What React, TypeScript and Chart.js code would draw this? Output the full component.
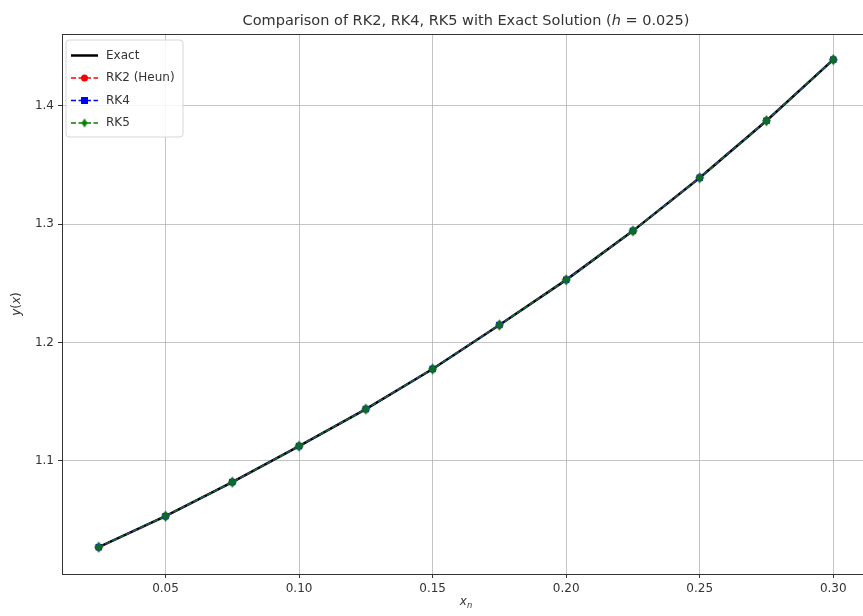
import { useEffect, useRef } from "react";
import { Chart, registerables } from "chart.js";

Chart.register(...registerables);

// Grid points x_n and solution values
const xValues = [0.025, 0.05, 0.075, 0.1, 0.125, 0.15, 0.175, 0.2, 0.225, 0.25, 0.275, 0.3];
const exactValues = [1.027, 1.0532, 1.082, 1.1124, 1.1437, 1.1776, 1.2148, 1.2529, 1.2943, 1.3392, 1.3874, 1.439];
const rk2Values = [1.027, 1.0532, 1.082, 1.1124, 1.1437, 1.1776, 1.2148, 1.2529, 1.2943, 1.3392, 1.3874, 1.439];
const rk4Values = [1.027, 1.0532, 1.082, 1.1124, 1.1437, 1.1776, 1.2148, 1.2529, 1.2943, 1.3392, 1.3874, 1.439];
const rk5Values = [1.027, 1.0532, 1.082, 1.1124, 1.1437, 1.1776, 1.2148, 1.2529, 1.2943, 1.3392, 1.3874, 1.439];

const xTicks = [0.05, 0.1, 0.15, 0.2, 0.25, 0.3];
const yTicks = [1.1, 1.2, 1.3, 1.4];

const legendNames = ["Exact", "RK2 (Heun)", "RK4", "RK5"];

const FONT = "'DejaVu Sans', sans-serif";
const TEXT = "#333";

function thinDiamond(color: string, w: number, h: number): HTMLCanvasElement {
  const c = document.createElement("canvas");
  c.width = w + 2;
  c.height = h + 2;
  const g = c.getContext("2d")!;
  g.fillStyle = color;
  g.beginPath();
  g.moveTo(c.width / 2, 1);
  g.lineTo(c.width - 1, c.height / 2);
  g.lineTo(c.width / 2, c.height - 1);
  g.lineTo(1, c.height / 2);
  g.closePath();
  g.fill();
  return c;
}

type Seg = { t: string; italic?: boolean; sub?: boolean };

function drawRich(ctx: CanvasRenderingContext2D, segs: Seg[], size: number, cx: number, y: number) {
  const fontFor = (s: Seg) => `${s.italic ? "italic " : ""}${s.sub ? size * 0.7 : size}px ${FONT}`;
  let total = 0;
  for (const s of segs) {
    ctx.font = fontFor(s);
    total += ctx.measureText(s.t).width;
  }
  let x = cx - total / 2;
  ctx.textAlign = "left";
  for (const s of segs) {
    ctx.font = fontFor(s);
    ctx.fillText(s.t, x, s.sub ? y + size * 0.25 : y);
    x += ctx.measureText(s.t).width;
  }
}

const App = () => {
  const ref = useRef<HTMLCanvasElement>(null);

  useEffect(() => {
    const diamondSmall = thinDiamond("#008000", 6, 9);
    const diamond = thinDiamond("#0d6b2c", 9, 11);

    const decorations = {
      id: "decorations",
      afterDraw(chart: Chart) {
        const { ctx, chartArea: a } = chart;
        ctx.save();
        // axes frame
        ctx.strokeStyle = "#333";
        ctx.lineWidth = 1;
        ctx.strokeRect(Math.round(a.left) + 0.5, Math.round(a.top) + 0.5, Math.round(a.right - a.left), Math.round(a.bottom - a.top));

        ctx.fillStyle = TEXT;
        ctx.textBaseline = "alphabetic";
        const cx = (a.left + a.right) / 2;
        // title
        drawRich(
          ctx,
          [{ t: "Comparison of RK2, RK4, RK5 with Exact Solution (" }, { t: "h", italic: true }, { t: " = 0.025)" }],
          14.5,
          cx,
          25
        );
        // x label
        drawRich(ctx, [{ t: "x", italic: true }, { t: "n", italic: true, sub: true }], 12, cx, 605);
        // y label
        ctx.save();
        ctx.translate(20, (a.top + a.bottom) / 2);
        ctx.rotate(-Math.PI / 2);
        drawRich(ctx, [{ t: "y", italic: true }, { t: "(" }, { t: "x", italic: true }, { t: ")" }], 12, 0, 0);
        ctx.restore();

        // legend
        const lx = 66, ly = 40, lw = 117, lh = 97, r = 3;
        ctx.beginPath();
        ctx.moveTo(lx + r, ly);
        ctx.arcTo(lx + lw, ly, lx + lw, ly + lh, r);
        ctx.arcTo(lx + lw, ly + lh, lx, ly + lh, r);
        ctx.arcTo(lx, ly + lh, lx, ly, r);
        ctx.arcTo(lx, ly, lx + lw, ly, r);
        ctx.closePath();
        ctx.fillStyle = "rgba(255,255,255,0.85)";
        ctx.fill();
        ctx.strokeStyle = "#d6d6d6";
        ctx.lineWidth = 1;
        ctx.stroke();

        const rows = [55.5, 78, 100.5, 123];
        const colors = ["#000000", "#ff0000", "#0000ff", "#008000"];
        const hx0 = 71, hx1 = 98;
        rows.forEach((ry, i) => {
          ctx.strokeStyle = colors[i];
          if (i === 0) {
            ctx.lineWidth = 2.5;
            ctx.setLineDash([]);
          } else {
            ctx.lineWidth = 1.5;
            ctx.setLineDash([5, 2.5]);
          }
          ctx.beginPath();
          ctx.moveTo(hx0, ry);
          ctx.lineTo(hx1, ry);
          ctx.stroke();
          ctx.setLineDash([]);
          const mx = (hx0 + hx1) / 2;
          ctx.fillStyle = colors[i];
          if (i === 1) {
            ctx.beginPath();
            ctx.arc(mx, ry, 3.5, 0, Math.PI * 2);
            ctx.fill();
          } else if (i === 2) {
            ctx.fillRect(mx - 3.5, ry - 3.5, 7, 7);
          } else if (i === 3) {
            ctx.drawImage(diamondSmall, mx - diamondSmall.width / 2, ry - diamondSmall.height / 2);
          }
          ctx.fillStyle = TEXT;
          ctx.font = `12px ${FONT}`;
          ctx.textAlign = "left";
          ctx.textBaseline = "middle";
          ctx.fillText(legendNames[i], 106, ry);
        });
        ctx.restore();
      },
    };

    const toPts = (ys: number[]) => xValues.map((x, i) => ({ x, y: ys[i] }));

    const chart = new Chart(ref.current!, {
      type: "line",
      data: {
        datasets: [
          {
            label: legendNames[0],
            data: toPts(exactValues),
            borderColor: "#000000",
            borderWidth: 2.5,
            pointRadius: 0,
            order: 3,
          },
          {
            label: legendNames[1],
            data: toPts(rk2Values),
            borderColor: "#ff0000",
            backgroundColor: "#ff0000",
            borderWidth: 1.5,
            borderDash: [5, 2.5],
            pointStyle: "circle",
            pointRadius: 3.5,
            pointBorderWidth: 0,
            order: 2,
          },
          {
            label: legendNames[2],
            data: toPts(rk4Values),
            borderColor: "#0000ff",
            backgroundColor: "#0000ff",
            borderWidth: 1.5,
            borderDash: [5, 2.5],
            pointStyle: "rect",
            pointRadius: 4.5,
            pointBorderWidth: 0,
            order: 1,
          },
          {
            label: legendNames[3],
            data: toPts(rk5Values),
            borderColor: "#0d6b2c",
            backgroundColor: "#0d6b2c",
            borderWidth: 1.5,
            borderDash: [5, 2.5],
            pointStyle: diamond,
            pointRadius: 5,
            order: 0,
          },
        ],
      },
      options: {
        responsive: false,
        animation: false,
        events: [],
        layout: { padding: { left: 0, top: 34, right: 10, bottom: 0 } },
        plugins: {
          legend: { display: false },
          title: { display: false },
          tooltip: { enabled: false },
        },
        scales: {
          x: {
            type: "linear",
            min: 0.01125,
            max: 0.31375,
            afterBuildTicks: (scale: any) => {
              scale.ticks = xTicks.map((v) => ({ value: v }));
            },
            afterFit: (scale: any) => {
              scale.height = 42;
            },
            ticks: {
              autoSkip: false,
              maxRotation: 0,
              padding: 4,
              color: TEXT,
              font: { family: FONT, size: 12 },
              callback: (v: any) => Number(v).toFixed(2),
            },
            grid: {
              color: "rgba(176,176,176,0.75)",
              lineWidth: 1,
              tickLength: 4,
              tickColor: "#333",
            },
            border: { display: false },
          },
          y: {
            type: "linear",
            min: 1.0043,
            max: 1.4607,
            afterBuildTicks: (scale: any) => {
              scale.ticks = yTicks.map((v) => ({ value: v }));
            },
            afterFit: (scale: any) => {
              scale.width = 62;
            },
            ticks: {
              padding: 4,
              color: TEXT,
              font: { family: FONT, size: 12 },
              callback: (v: any) => Number(v).toFixed(1),
            },
            grid: {
              color: "rgba(176,176,176,0.75)",
              lineWidth: 1,
              tickLength: 4,
              tickColor: "#333",
            },
            border: { display: false },
          },
        },
      },
      plugins: [decorations],
    });

    return () => chart.destroy();
  }, []);

  return (
    <div
      style={{
        position: "fixed",
        left: 0,
        top: 0,
        width: 863,
        height: 616,
        overflow: "hidden",
        background: "#ffffff",
      }}
    >
      <canvas ref={ref} width={880} height={616} style={{ display: "block" }} />
    </div>
  );
};

export default App;
